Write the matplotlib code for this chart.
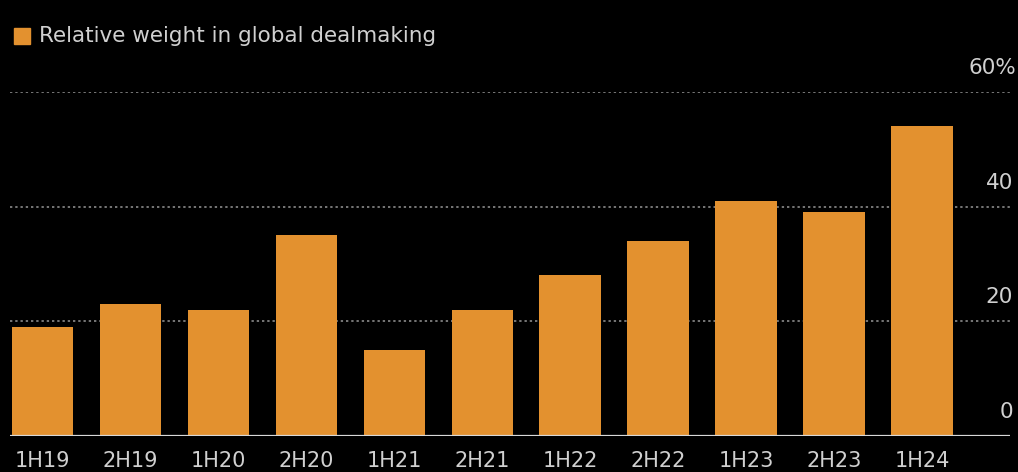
import matplotlib
matplotlib.use("Agg")
import matplotlib.pyplot as plt
from matplotlib.patches import Rectangle

categories = ["1H19", "2H19", "1H20", "2H20", "1H21", "2H21",
              "1H22", "2H22", "1H23", "2H23", "1H24"]
values = [19, 23, 22, 35, 15, 22, 28, 34, 41, 39, 54]
y_ticks = [0, 20, 40, 60]
y_tick_labels = ["0", "20", "40", "60%"]
legend_label = "Relative weight in global dealmaking"

BAR = "#E3912F"
TXT = "#d0d0d0"
BG = "#000000"

fig = plt.figure(figsize=(10.18, 4.72), dpi=100, facecolor=BG)
W, H = 1018, 472
ax = fig.add_axes([10 / W, (H - 436) / H, 1000 / W, (436 - 92) / H])
ax.set_facecolor(BG)

x = list(range(len(categories)))
ax.bar(x, values, width=0.7, color=BAR, zorder=2)
ax.set_xlim(-0.37, 11.0)
ax.set_ylim(0, 60)

for s in ax.spines.values():
    s.set_visible(False)

for t in y_ticks:
    if t == 0:
        ax.axhline(0, color="#d8d8d8", lw=1.6, zorder=3)
    else:
        ax.axhline(t, color="#777777", lw=1.4, ls=(0, (1.2, 1.5)), zorder=1)

ax.set_yticks([])
ax.set_xticks(x)
ax.set_xticklabels(categories, color=TXT, fontsize=15)
ax.tick_params(axis="x", length=0, pad=10.5)

for t, lab in zip(y_ticks, y_tick_labels):
    ypix = 436 - t * (436 - 92) / 60 - 24
    xr = 1013 if not lab.endswith("%") else 1016
    fig.text(xr / W, (H - ypix) / H, lab, color=TXT, fontsize=15.5,
             ha="right", va="center")

fig.patches.append(Rectangle((14 / W, (H - 44) / H), 16 / W, 16 / H,
                             transform=fig.transFigure, color=BAR))
fig.text(39 / W, (H - 36) / H, legend_label, color=TXT, fontsize=15.5,
         ha="left", va="center")

fig.savefig("out.png", dpi=100, facecolor=BG)
